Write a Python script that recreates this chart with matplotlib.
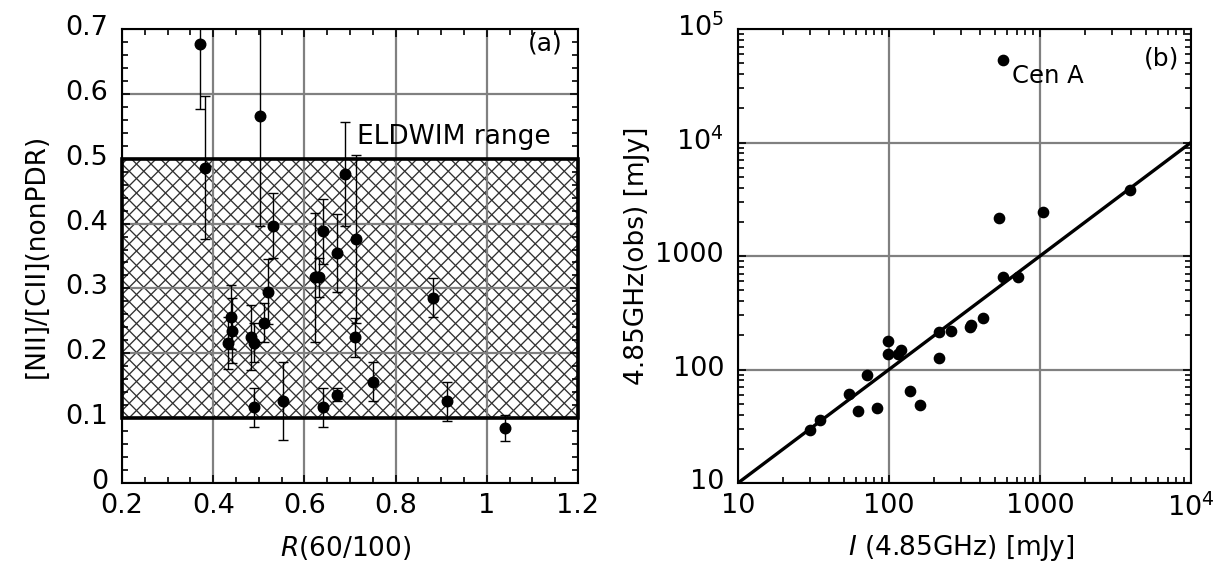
import numpy as np
import matplotlib
matplotlib.use("Agg")
import matplotlib.pyplot as plt
from matplotlib.patches import Rectangle
from matplotlib.collections import LineCollection
from matplotlib.transforms import ScaledTranslation
from matplotlib.ticker import FixedLocator, MultipleLocator, LogLocator, NullFormatter

# ---------------- data: panel (a) ----------------
r60_100 = [0.371, 0.382, 0.502, 0.531, 0.440, 0.442, 0.432, 0.482, 0.490, 0.512,
           0.521, 0.490, 0.552, 0.623, 0.633, 0.640, 0.671, 0.690, 0.713, 0.712,
           0.640, 0.671, 0.751, 0.881, 0.912, 1.040]
nii_cii = [0.677, 0.486, 0.566, 0.397, 0.256, 0.235, 0.216, 0.225, 0.216, 0.247,
           0.295, 0.117, 0.126, 0.317, 0.317, 0.388, 0.354, 0.477, 0.376, 0.225,
           0.117, 0.136, 0.156, 0.286, 0.126, 0.085]
nii_cii_err = [0.10, 0.11, 0.17, 0.05, 0.05, 0.05, 0.04, 0.05, 0.03, 0.03,
               0.05, 0.03, 0.06, 0.10, 0.03, 0.05, 0.06, 0.08, 0.13, 0.03,
               0.03, 0.01, 0.03, 0.03, 0.03, 0.02]
eldwim_range = [0.1, 0.5]

# ---------------- data: panel (b) ----------------
i_485_pred = [30.0, 35.1, 54.6, 62.6, 71.8, 83.7, 98.9, 99.0, 115, 119.5,
              137.7, 160.4, 214, 214, 256, 344, 348, 421, 533, 565,
              711, 1052, 3945]
i_485_obs = [29.2, 35.7, 61.2, 42.8, 89.9, 46.1, 178.6, 137, 137, 149.7,
             64.1, 49, 126, 214, 220, 235, 247, 282, 2173, 647,
             659, 2432, 3847]
cena_pred = 565
cena_obs = 53100

a_xticks = [0.2, 0.4, 0.6, 0.8, 1.0, 1.2]
a_xticklabels = ["0.2", "0.4", "0.6", "0.8", "1", "1.2"]
a_yticks = [0, 0.1, 0.2, 0.3, 0.4, 0.5, 0.6, 0.7]
a_yticklabels = ["0", "0.1", "0.2", "0.3", "0.4", "0.5", "0.6", "0.7"]
b_xticks = [10, 100, 1000, 10000]
b_xticklabels = ["10", "100", "1000", "$10^4$"]
b_yticks = [10, 100, 1000, 10000, 100000]
b_yticklabels = ["10", "100", "1000", "$10^4$", "$10^5$"]

plt.rcParams['font.family'] = ['DejaVu Sans']
plt.rcParams['mathtext.fontset'] = 'dejavusans'

W, H = 1228, 567
fig = plt.figure(figsize=(W / 100, H / 100), dpi=100)

top_px, bot_px = 29, 483
axa = fig.add_axes([122 / W, 1 - bot_px / H, (578 - 122) / W, (bot_px - top_px) / H])
axb = fig.add_axes([738 / W, 1 - bot_px / H, (1191 - 738) / W, (bot_px - top_px) / H])

tick_fs = 19.5
lab_fs = 19
grid_col = '#808080'
ylab_shift = ScaledTranslation(0, 4 / 100, fig.dpi_scale_trans)

def style(ax):
    for s in ax.spines.values():
        s.set_linewidth(1.5)
        s.set_zorder(5)
    ax.tick_params(which='both', direction='in', top=True, right=True,
                   labelsize=tick_fs, width=1.2, colors='black')
    ax.tick_params(which='major', length=6)
    ax.tick_params(which='minor', length=4)
    ax.tick_params(axis='x', pad=7.5)
    ax.tick_params(axis='y', pad=10)
    ax.set_axisbelow(True)
    ax.grid(True, which='major', color=grid_col, linewidth=1.6)

def shift_ylabels(ax):
    for lab in ax.get_yticklabels():
        lab.set_transform(lab.get_transform() + ylab_shift)

# ---------------- panel (a) ----------------
style(axa)
axa.set_xlim(0.2, 1.2)
axa.set_ylim(0, 0.7)
axa.xaxis.set_major_locator(FixedLocator(a_xticks))
axa.set_xticklabels(a_xticklabels)
axa.yaxis.set_major_locator(FixedLocator(a_yticks))
axa.set_yticklabels(a_yticklabels)
axa.xaxis.set_minor_locator(MultipleLocator(0.05))
axa.yaxis.set_minor_locator(MultipleLocator(0.02))

rect_h = eldwim_range[1] - eldwim_range[0]
hatch_rect = Rectangle((0.2, eldwim_range[0]), 1.0, rect_h,
                       facecolor='white', edgecolor='none', linewidth=0, zorder=0.2)
axa.add_patch(hatch_rect)

# cross-hatching with a fixed pixel spacing, clipped to the range box
fig.canvas.draw()
bb = axa.bbox
axw, axh = bb.width, bb.height
spacing = 14.5  # pixels between parallel hatch lines (horizontal)
n = int((axw + axh) / spacing) + 4
segs = []
for k in range(-n, n + 1):
    c = k * spacing
    u = np.array([-axh, axw + axh])
    segs.append(np.column_stack([u / axw, (u + c) / axh]))
    segs.append(np.column_stack([u / axw, (-u + c) / axh]))
hatch = LineCollection(segs, colors='#303030', linewidths=0.95,
                       transform=axa.transAxes, zorder=0.3)
axa.add_collection(hatch)
hatch.set_clip_path(hatch_rect)

edge_rect = Rectangle((0.2, eldwim_range[0]), 1.0, rect_h,
                      facecolor='none', edgecolor='black', linewidth=2.6, zorder=1.5,
                      clip_on=False)
axa.add_patch(edge_rect)

axa.errorbar(r60_100, nii_cii, yerr=nii_cii_err, fmt='o', color='black',
             markersize=7.6, elinewidth=1.0, capsize=3.5, capthick=1.0, zorder=3)

axa.text(0.715, 0.523, "ELDWIM range", fontsize=19, va='baseline', ha='left', zorder=4)
axa.text(0.928, 0.968, "(a)", transform=axa.transAxes, fontsize=18,
         ha='center', va='center')
axa.set_xlabel("$R$(60/100)", fontsize=lab_fs)
axa.xaxis.set_label_coords(0.49, -0.143)
axa.xaxis.label.set_va('center')
axa.set_ylabel("[NII]/[CII](nonPDR)", fontsize=lab_fs)
axa.yaxis.set_label_coords(-0.186, 0.5)
axa.yaxis.label.set_va('center')
shift_ylabels(axa)

# ---------------- panel (b) ----------------
style(axb)
axb.set_xscale('log')
axb.set_yscale('log')
axb.set_xlim(10, 1e4)
axb.set_ylim(10, 1e5)
axb.xaxis.set_major_locator(FixedLocator(b_xticks))
axb.set_xticklabels(b_xticklabels)
axb.yaxis.set_major_locator(FixedLocator(b_yticks))
axb.set_yticklabels(b_yticklabels)
axb.xaxis.set_minor_locator(LogLocator(base=10, subs=np.arange(2, 10)))
axb.yaxis.set_minor_locator(LogLocator(base=10, subs=np.arange(2, 10)))
axb.xaxis.set_minor_formatter(NullFormatter())
axb.yaxis.set_minor_formatter(NullFormatter())

line_x = np.array([10, 1e4])
axb.plot(line_x, line_x, color='black', linewidth=2.4, zorder=2, clip_on=True)
axb.plot(i_485_pred, i_485_obs, 'o', color='black', markersize=7.4, zorder=3)
axb.plot([cena_pred], [cena_obs], 'o', color='black', markersize=7.4, zorder=3)
axb.annotate("Cen A", (cena_pred, cena_obs), xytext=(7, -3), textcoords='offset points',
             fontsize=17.5, ha='left', va='top')
axb.text(0.936, 0.936, "(b)", transform=axb.transAxes, fontsize=18,
         ha='center', va='center')
axb.set_xlabel("$I$ (4.85GHz) [mJy]", fontsize=lab_fs)
axb.xaxis.set_label_coords(0.494, -0.143)
axb.xaxis.label.set_va('center')
axb.set_ylabel("4.85GHz(obs) [mJy]", fontsize=lab_fs)
axb.yaxis.set_label_coords(-0.222, 0.5)
axb.yaxis.label.set_va('center')
shift_ylabels(axb)

fig.savefig("out.png", dpi=100)
